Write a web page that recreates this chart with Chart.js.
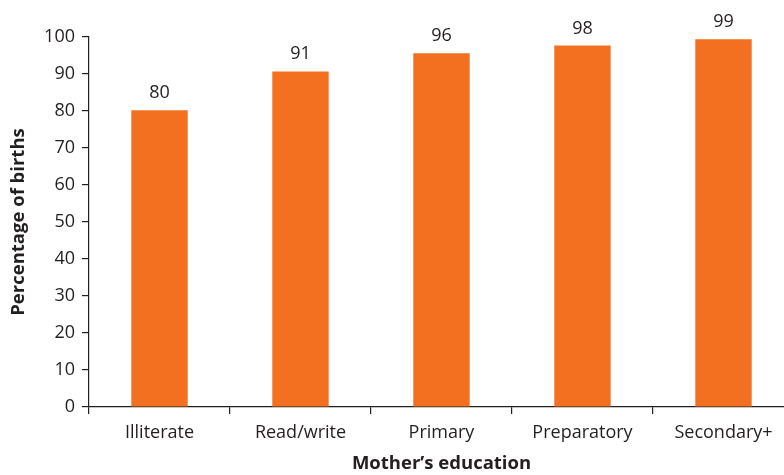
<!DOCTYPE html>
<html>
<head>
<meta charset="utf-8">
<script src="https://cdn.jsdelivr.net/npm/chart.js@4"></script>
<style>
  html, body { margin: 0; padding: 0; background: #fff; overflow: hidden; }
  #wrap { width: 794px; height: 475px; }
</style>
</head>
<body>
<div id="wrap"><canvas id="births"></canvas></div>
<script>
"use strict"

// mother's education vs. percentage of births
const categories = ["Illiterate", "Read/write", "Primary", "Preparatory", "Secondary+"];
const births = [80.2, 90.7, 95.6, 97.7, 99.4];
const yTicks = [0, 10, 20, 30, 40, 50, 60, 70, 80, 90, 100];

const ink = "#231f20";
const orange = "#f37021";

Chart.defaults.font.family = "'Open Sans', sans-serif";
Chart.defaults.color = ink;

// draws the rounded value above each bar
const valueLabels = {
  id: "valueLabels",
  afterDatasetsDraw(chart) {
    const ctx = chart.ctx;
    const meta = chart.getDatasetMeta(0);
    ctx.save();
    ctx.font = "18px 'Open Sans', sans-serif";
    ctx.fillStyle = ink;
    ctx.textAlign = "center";
    ctx.textBaseline = "alphabetic";
    meta.data.forEach((bar, i) => {
      ctx.fillText(Math.round(births[i]), bar.x, bar.y - 12);
    });
    ctx.restore();
  }
};

new Chart(document.getElementById("births"), {
  type: "bar",
  data: {
    labels: categories,
    datasets: [{
      data: births,
      backgroundColor: orange,
      barPercentage: 0.4,
      categoryPercentage: 1.0
    }]
  },
  options: {
    responsive: true,
    maintainAspectRatio: false,
    animation: false,
    layout: { padding: { top: 37, left: 0, right: 0, bottom: 0 } },
    plugins: {
      legend: { display: false },
      tooltip: { enabled: false }
    },
    scales: {
      x: {
        grid: { display: true, offset: true, drawOnChartArea: false, tickLength: 7, color: ink, lineWidth: 1.2 },
        border: { display: true, color: ink, width: 1.2 },
        ticks: { font: { size: 18 }, padding: 8, color: ink, maxRotation: 0 },
        title: { display: true, text: "Mother’s education", font: { size: 18.5, weight: "bold" }, color: ink, padding: { top: 1, bottom: 0 } },
        afterFit(scale) { scale.height = 68; }
      },
      y: {
        min: 0,
        max: 100,
        afterBuildTicks(scale) { scale.ticks = yTicks.map(v => ({ value: v })); },
        grid: { display: true, drawOnChartArea: false, tickLength: 7, color: ink, lineWidth: 1.2 },
        border: { display: true, color: ink, width: 1.2 },
        ticks: { font: { size: 18 }, padding: 7, color: ink },
        title: { display: true, text: "Percentage of births", font: { size: 18.5, weight: "bold" }, color: ink, padding: { top: 8, bottom: 0 } },
        afterFit(scale) { scale.width = 89; }
      }
    }
  },
  plugins: [valueLabels]
});
</script>
</body>
</html>
